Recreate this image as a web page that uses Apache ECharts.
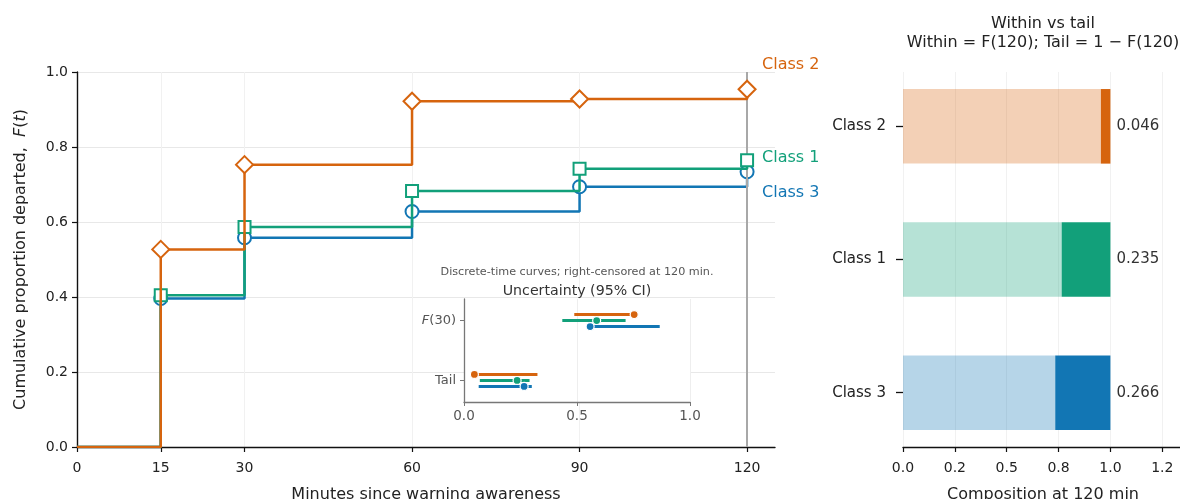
<!DOCTYPE html>
<html>
<head>
<meta charset="utf-8">
<script src="https://cdn.jsdelivr.net/npm/echarts@6/dist/echarts.min.js"></script>
<style>
  html, body { margin: 0; padding: 0; background: #fff; }
  #chart { width: 1180px; height: 499px; }
</style>
</head>
<body>
<div id="chart"></div>
<script>
const FONT = 'DejaVu Sans';

// Observation times (minutes) and cumulative proportion departed F(t)
const times = [0, 15, 30, 60, 90, 120];
const class1F = [0, 0.405, 0.587, 0.683, 0.742, 0.765];
const class2F = [0, 0.527, 0.753, 0.922, 0.928, 0.954];
const class3F = [0, 0.396, 0.558, 0.628, 0.694, 0.734];
const classNames = ['Class 1', 'Class 2', 'Class 3'];
const xTicks = [0, 15, 30, 60, 90, 120];

// 95% CI bounds (order: Class 1, Class 2, Class 3)
const f30Lo = [0.435, 0.488, 0.55];
const f30Hi = [0.715, 0.745, 0.866];
const tailLo = [0.07, 0.04, 0.065];
const tailHi = [0.29, 0.325, 0.30];
const ciRows = ['Tail', '{it|F}(30)'];

// Composition panel: rows from bottom to top, tick labels
const barRows = ['Class 3', 'Class 1', 'Class 2'];
const compTicks = [0, 0.25, 0.5, 0.75, 1.0, 1.25];
const compTickLabels = ['0.0', '0.2', '0.5', '0.8', '1.0', '1.2'];

const curves = [class1F, class2F, class3F];
const f30Point = curves.map(c => c[times.indexOf(30)]);
const tailShare = curves.map(c => 1 - c[times.indexOf(120)]);

const colors = ['#12A07A', '#D6640E', '#1276B4'];
const lightColors = ['rgba(18,160,122,0.31)', 'rgba(214,100,14,0.3)', 'rgba(18,118,180,0.31)'];
const symbols = ['emptyRect', 'emptyDiamond', 'emptyCircle'];
const symbolSizes = [12, 17, 13];
const drawOrder = [2, 0, 1];           // blue, green, then orange on top
const labelDy = [0.006, 0.064, -0.057];
const ciRowOffset = [0, 0.1, -0.1];
const BAR_HEIGHT = 0.56;

const txt = { fontFamily: FONT, color: '#222' };

const chart = echarts.init(document.getElementById('chart'), null, { renderer: 'canvas' });

const stepSeries = drawOrder.map((i, k) => ({
  type: 'line',
  name: classNames[i],
  xAxisIndex: 0, yAxisIndex: 0,
  step: 'end',
  data: times.map((t, j) => j === 0 ? { value: [t, curves[i][j]], symbol: 'none' } : [t, curves[i][j]]),
  symbol: symbols[i],
  symbolSize: symbolSizes[i],
  showAllSymbol: true,
  lineStyle: { color: colors[i], width: 2.5 },
  itemStyle: { color: colors[i], borderWidth: 2.2 },
  z: 4 + k
}));

const option = {
  animation: false,
  backgroundColor: '#fff',
  textStyle: { fontFamily: FONT },
  grid: [
    { left: 77, top: 72, width: 698, height: 375, outerBoundsMode: 'none', containLabel: false },
    { left: 464, top: 299, width: 226, height: 103, outerBoundsMode: 'none', containLabel: false,
      show: true, backgroundColor: '#fff', borderWidth: 0, z: 5 },
    { left: 903, top: 72, width: 280, height: 375, outerBoundsMode: 'none', containLabel: false }
  ],
  xAxis: [
    {
      gridIndex: 0, type: 'value', min: 0, max: 125,
      axisLine: { show: true, onZero: false, lineStyle: { color: '#111', width: 1.4 } },
      axisTick: { show: true, customValues: xTicks, length: 5, lineStyle: { color: '#111', width: 1.2 } },
      axisLabel: { customValues: xTicks, fontSize: 14, margin: 14, ...txt },
      splitLine: { show: true, lineStyle: { color: '#f1f1f1', width: 1 } },
      name: 'Minutes since warning awareness', nameLocation: 'middle', nameGap: 40,
      nameTextStyle: { fontSize: 16, ...txt }
    },
    {
      gridIndex: 1, type: 'value', min: 0, max: 1, interval: 0.5, z: 6,
      axisLine: { show: true, onZero: false, lineStyle: { color: '#777', width: 1.3 } },
      axisTick: { show: true, length: 4, lineStyle: { color: '#777' } },
      axisLabel: { fontSize: 13.5, margin: 7, fontFamily: FONT, color: '#555', formatter: v => v.toFixed(1) },
      splitLine: { show: true, lineStyle: { color: '#eeeeee', width: 1 } }
    },
    {
      gridIndex: 2, type: 'value', min: 0, max: 1.35, interval: 0.25,
      axisLine: { show: true, onZero: false, lineStyle: { color: '#111', width: 1.4 } },
      axisTick: { show: true, customValues: compTicks, length: 5, lineStyle: { color: '#111', width: 1.2 } },
      axisLabel: { customValues: compTicks, fontSize: 14, margin: 14, ...txt,
        formatter: v => compTickLabels[compTicks.findIndex(t => Math.abs(t - v) < 1e-6)] },
      splitLine: { show: true, lineStyle: { color: '#f1f1f1', width: 1 } },
      name: 'Composition at 120 min', nameLocation: 'middle', nameGap: 40,
      nameTextStyle: { fontSize: 16, ...txt }
    }
  ],
  yAxis: [
    {
      gridIndex: 0, type: 'value', min: 0, max: 1, interval: 0.2,
      axisLine: { show: true, onZero: false, lineStyle: { color: '#111', width: 1.4 } },
      axisTick: { show: true, length: 5, lineStyle: { color: '#111', width: 1.2 } },
      axisLabel: { fontSize: 14, margin: 9, ...txt, formatter: v => v.toFixed(1) },
      splitLine: { show: true, lineStyle: { color: '#e8e8e8', width: 1 } },
      name: 'Cumulative proportion departed,  {it|F}({it|t})', nameLocation: 'middle', nameGap: 48,
      nameTextStyle: { fontSize: 16, ...txt, rich: { it: { fontStyle: 'italic', fontSize: 16, ...txt } } }
    },
    {
      gridIndex: 1, type: 'value', min: -0.36, max: 1.36, z: 6,
      axisLine: { show: true, onZero: false, lineStyle: { color: '#777', width: 1.3 } },
      axisTick: { show: true, customValues: [0, 1], length: 4, lineStyle: { color: '#777' } },
      axisLabel: { customValues: [0, 1], fontSize: 13, margin: 8, fontFamily: FONT, color: '#555',
        formatter: v => ciRows[Math.round(v)],
        rich: { it: { fontStyle: 'italic', fontSize: 13, fontFamily: FONT, color: '#555' } } },
      splitLine: { show: false }
    },
    {
      gridIndex: 2, type: 'value', min: -0.408, max: 2.408,
      axisLine: { show: false },
      axisTick: { show: true, customValues: [0, 1, 2], length: 7, lineStyle: { color: '#111', width: 1.3 } },
      axisLabel: { customValues: [0, 1, 2], fontSize: 15, margin: 17, ...txt,
        formatter: v => barRows[Math.round(v)] },
      splitLine: { show: false }
    }
  ],
  graphic: [
    { type: 'text', x: 1043, y: 24, style: { text: 'Within vs tail', font: '16px "DejaVu Sans"', fill: '#222', align: 'center', verticalAlign: 'middle' } },
    { type: 'text', x: 1043, y: 43, style: { text: 'Within = F(120); Tail = 1 \u2212 F(120)', font: '16px "DejaVu Sans"', fill: '#222', align: 'center', verticalAlign: 'middle' } },
    { type: 'text', x: 577, y: 272, z: 20, style: { text: 'Discrete-time curves; right-censored at 120 min.', font: '11.2px "DejaVu Sans"', fill: '#555', align: 'center', verticalAlign: 'middle' } },
    { type: 'text', x: 577, y: 291, z: 20, style: { text: 'Uncertainty (95% CI)', font: '14.2px "DejaVu Sans"', fill: '#333', align: 'center', verticalAlign: 'middle' } }
  ],
  series: [
    // censoring time reference line
    {
      type: 'line', xAxisIndex: 0, yAxisIndex: 0, data: [], z: 2,
      markLine: {
        silent: true, symbol: 'none', label: { show: false },
        lineStyle: { color: '#a8a8a8', width: 2, type: 'solid' },
        data: [{ xAxis: 120 }]
      }
    },
    ...stepSeries,
    // end-of-curve class labels
    {
      type: 'scatter', xAxisIndex: 0, yAxisIndex: 0, clip: false, z: 9,
      symbolSize: 1, itemStyle: { color: 'transparent' },
      data: classNames.map((n, i) => ({
        value: [122.6, curves[i][curves[i].length - 1] + labelDy[i]],
        label: { show: true, position: 'right', distance: 0, formatter: n, opacity: 1,
          color: colors[i], fontSize: 16, fontFamily: FONT }
      }))
    },
    // inset: confidence intervals with point estimates
    {
      type: 'custom', xAxisIndex: 1, yAxisIndex: 1, z: 10,
      data: classNames.map((n, i) => [i]),
      renderItem(params, api) {
        const i = api.value(0);
        const dy = ciRowOffset[i];
        const rows = [
          [tailLo[i], tailHi[i], 0, tailShare[i]],
          [f30Lo[i], f30Hi[i], 1, f30Point[i]]
        ];
        const children = [];
        rows.forEach(([lo, hi, row, pt]) => {
          const a = api.coord([lo, row + dy]);
          const b = api.coord([hi, row + dy]);
          const c = api.coord([pt, row + dy]);
          children.push({ type: 'line', shape: { x1: a[0], y1: a[1], x2: b[0], y2: b[1] },
            style: { stroke: colors[i], lineWidth: 3 } });
          children.push({ type: 'circle', shape: { cx: c[0], cy: c[1], r: 4 },
            style: { fill: colors[i], stroke: '#fff', lineWidth: 1.2 } });
        });
        return { type: 'group', children };
      }
    },
    // composition bars: within F(120) and tail 1 - F(120)
    {
      type: 'custom', xAxisIndex: 2, yAxisIndex: 2, z: 3,
      data: classNames.map((n, i) => [i]),
      renderItem(params, api) {
        const i = api.value(0);
        const row = barRows.indexOf(classNames[i]);
        const within = 1 - tailShare[i];
        const h = api.size([0, BAR_HEIGHT])[1];
        const p0 = api.coord([0, row]);
        const p1 = api.coord([within, row]);
        const p2 = api.coord([1, row]);
        return {
          type: 'group',
          children: [
            { type: 'rect', shape: { x: p0[0], y: p0[1] - h / 2, width: p1[0] - p0[0], height: h },
              style: { fill: lightColors[i] } },
            { type: 'rect', shape: { x: p1[0], y: p0[1] - h / 2, width: p2[0] - p1[0], height: h },
              style: { fill: colors[i] } },
            { type: 'text', x: p2[0] + 6, y: p0[1],
              style: { text: tailShare[i].toFixed(3), font: '15px "DejaVu Sans"', fill: '#333',
                align: 'left', verticalAlign: 'middle' } }
          ]
        };
      }
    }
  ]
};

chart.setOption(option);
</script>
</body>
</html>
